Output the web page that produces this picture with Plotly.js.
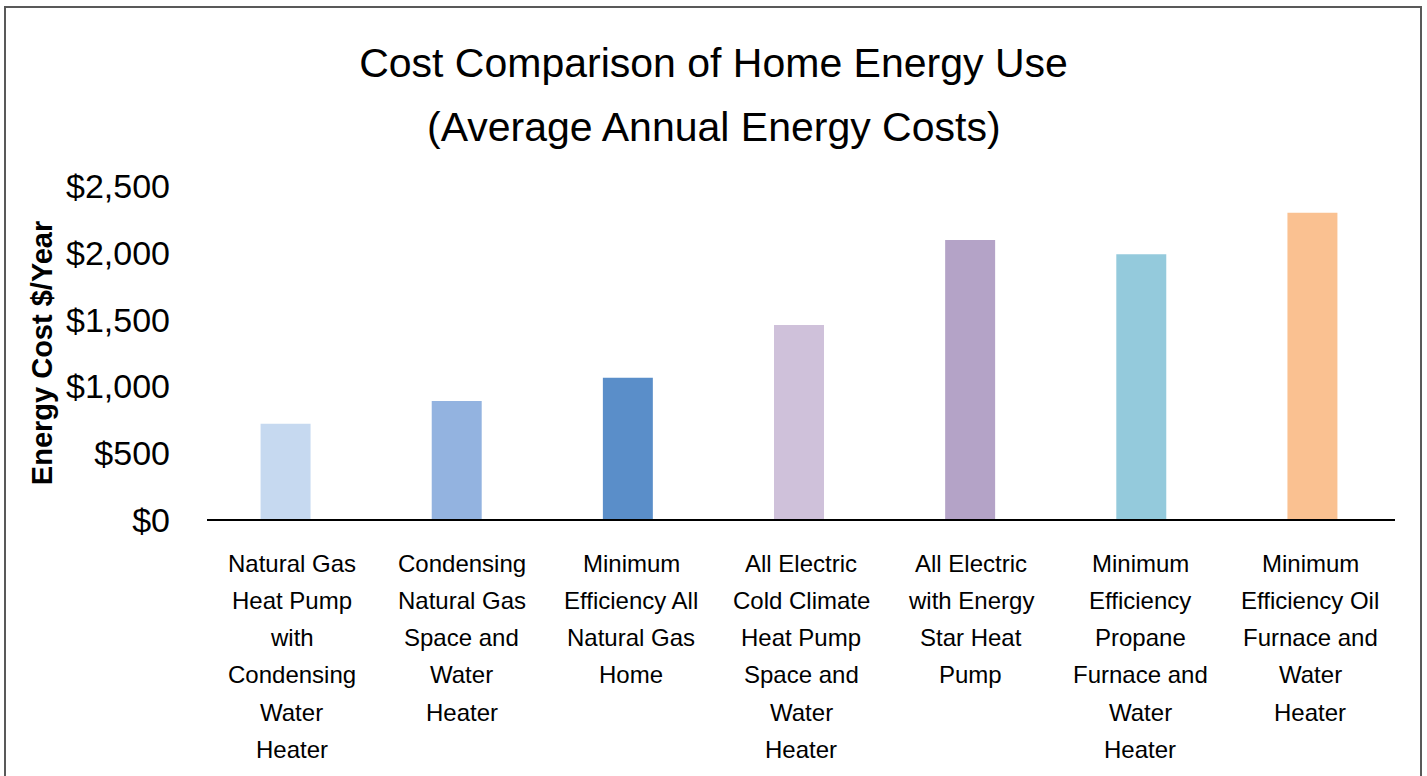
<!DOCTYPE html>
<html>
<head>
<meta charset="utf-8">
<script src="https://cdn.plot.ly/plotly-3.0.1.min.js"></script>
<style>
  html, body { margin: 0; padding: 0; background: #fff; }
  #chart { width: 1427px; height: 776px; }
  #frame { position: absolute; left: 4px; top: 6px; width: 1414px; height: 800px;
           border: 2px solid #595959; pointer-events: none; }
</style>
</head>
<body>
<div id="chart"></div>
<div id="frame"></div>
<script>
const categories = [
  "Natural Gas Heat Pump with Condensing Water Heater",
  "Condensing Natural Gas Space and Water Heater",
  "Minimum Efficiency All Natural Gas Home",
  "All Electric Cold Climate Heat Pump Space and Water Heater",
  "All Electric with Energy Star Heat Pump",
  "Minimum Efficiency Propane Furnace and Water Heater",
  "Minimum Efficiency Oil Furnace and Water Heater"
];
const labelLines = [
  ["Natural Gas", "Heat Pump", "with", "Condensing", "Water", "Heater"],
  ["Condensing", "Natural Gas", "Space and", "Water", "Heater"],
  ["Minimum", "Efficiency All", "Natural Gas", "Home"],
  ["All Electric", "Cold Climate", "Heat Pump", "Space and", "Water", "Heater"],
  ["All Electric", "with Energy", "Star Heat", "Pump"],
  ["Minimum", "Efficiency", "Propane", "Furnace and", "Water", "Heater"],
  ["Minimum", "Efficiency Oil", "Furnace and", "Water", "Heater"]
];
const costs = [720, 890, 1065, 1460, 2095, 1990, 2300];
const colors = ["#c6d9f0", "#93b3e0", "#5a8ec9", "#cfc1da", "#b4a3c7", "#94cadc", "#fac191"];
const yTickVals = [0, 500, 1000, 1500, 2000, 2500];
const yTickText = ["$0", "$500", "$1,000", "$1,500", "$2,000", "$2,500"];
const titleLines = ["Cost Comparison of Home Energy Use", "(Average Annual Energy Costs)"];
const yTitle = "Energy Cost $/Year";

const FONT = "Liberation Sans, Arial, Helvetica, sans-serif";
const L = 200, R = 29, T = 186, B = 256, W = 1427, H = 776;
const PW = W - L - R, PH = H - T - B;
// baseline axis line spans pixels 207..1395; category labels centred on its slots
const AX0 = 207, AX1 = 1395;
const slot = (AX1 - AX0) / categories.length;

const annotations = [];
categories.forEach((c, i) => {
  const xp = (AX0 + slot * (i + 0.5) - L) / PW;
  labelLines[i].forEach((line, j) => {
    annotations.push({
      x: xp, xref: "paper", y: 0, yref: "paper",
      yanchor: "middle", xanchor: "center",
      yshift: -(43 + j * 37.3),
      text: line, showarrow: false,
      font: { family: FONT, size: 24, color: "#000" }
    });
  });
});
annotations.push({
  x: (713.5 - L) / PW, xref: "paper", y: (H - B - 127) / PH, yref: "paper",
  xanchor: "center", yanchor: "middle",
  text: titleLines[1], showarrow: false,
  font: { family: FONT, size: 41, color: "#000" }
});

const trace = {
  type: "bar",
  x: categories,
  y: costs,
  marker: { color: colors, line: { width: 0 } },
  hoverinfo: "x+y"
};

const layout = {
  width: W, height: H,
  margin: { l: L, r: R, t: T, b: B },
  paper_bgcolor: "#fff", plot_bgcolor: "#fff",
  showlegend: false,
  bargap: 0.708,
  title: {
    text: titleLines[0],
    x: 0.5, xref: "container", xanchor: "center",
    y: 1 - 63 / H, yref: "container", yanchor: "middle",
    font: { family: FONT, size: 41, color: "#000" }
  },
  xaxis: {
    type: "category",
    showticklabels: false,
    showgrid: false, zeroline: false, showline: false,
    ticks: ""
  },
  yaxis: {
    range: [0, 2500],
    tickvals: yTickVals, ticktext: yTickText,
    tickfont: { family: FONT, size: 34, color: "#000" },
    ticks: "", ticklabelstandoff: 29,
    showgrid: false, zeroline: false, showline: false,
    title: { text: "<b>" + yTitle + "</b>", standoff: 4,
             font: { family: FONT, size: 29, color: "#000" } }
  },
  shapes: [{
    type: "line", xref: "paper", yref: "paper",
    x0: (AX0 - L) / PW, x1: (AX1 - L) / PW, y0: 0, y1: 0,
    line: { color: "#000", width: 2 }, layer: "above"
  }],
  annotations: annotations
};

Plotly.newPlot("chart", [trace], layout, { displayModeBar: false, staticPlot: true });
</script>
</body>
</html>
